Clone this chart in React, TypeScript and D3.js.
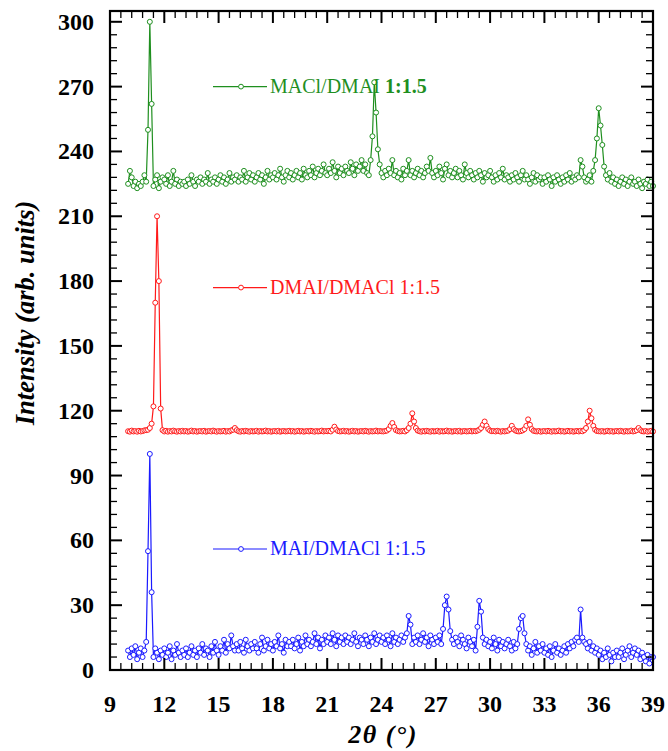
import React from "react";
import * as d3 from "d3";

// 2θ grid: 10.0 .. 39.0 in steps of 0.1
const angleStart = 10;
const angleStep = 0.1;

const greenValues = [
  225, 231, 228, 224, 226, 223, 225, 224, 226, 229,
  226, 250, 300, 262, 224, 227, 229, 223, 226, 228,
  227, 225, 229, 224, 226, 231, 225, 227, 224, 226,
  225, 226, 224, 227, 225, 229, 226, 224, 227, 226,
  228, 225, 227, 226, 230, 225, 227, 226, 228, 225,
  227, 229, 226, 228, 225, 227, 230, 226, 228, 227,
  229, 226, 228, 227, 231, 226, 228, 230, 227, 229,
  226, 228, 230, 227, 229, 225, 228, 231, 227, 229,
  228, 230, 227, 229, 232, 228, 226, 229, 231, 228,
  230, 227, 229, 231, 228, 230, 227, 232, 229, 228,
  231, 229, 233, 228, 230, 232, 229, 231, 234, 230,
  229, 232, 230, 235, 231, 228, 233, 230, 232, 229,
  233, 231, 230, 235, 232, 229, 234, 231, 233, 236,
  231, 234, 230, 229, 236, 247, 272, 258, 241, 234,
  230, 228, 231, 229, 232, 230, 236, 229, 231, 228,
  230, 227, 232, 229, 231, 236, 229, 231, 228, 230,
  232, 229, 231, 228, 230, 233, 231, 237, 230, 228,
  231, 229, 233, 230, 227, 232, 234, 229, 231, 228,
  230, 232, 228, 231, 229, 227, 234, 230, 228, 231,
  229, 227, 230, 228, 231, 229, 226, 230, 228, 229,
  231, 228, 226, 229, 227, 230, 228, 232, 227, 229,
  228, 226, 229, 227, 230, 228, 226, 229, 231, 227,
  229, 227, 225, 228, 230, 226, 229, 227, 228, 225,
  228, 226, 229, 227, 224, 228, 226, 229, 227, 225,
  228, 226, 229, 227, 230, 226, 228, 227, 229, 228,
  236, 233, 228, 226, 227, 229, 226, 231, 236, 246,
  260, 252, 243, 233, 229, 227, 230, 226, 228, 225,
  227, 224, 226, 228, 225, 227, 224, 226, 228, 225,
  226, 224, 227, 225, 223, 226, 225, 227, 224, 226,
  224,
];

const redValues = [
  110.5, 110.3, 110.8, 110.4, 110.6, 110.3, 110.7, 110.4, 110.6, 110.9,
  111, 111.2, 112, 114, 122, 170, 210, 180, 121, 111,
  110.4, 110.7, 110.3, 110.6, 110.4, 110.8, 110.5, 110.3, 110.6, 110.4,
  110.7, 110.4, 110.6, 110.3, 110.5, 110.8, 110.4, 110.6, 110.3, 110.5,
  110.6, 110.4, 110.7, 110.3, 110.5, 110.6, 110.4, 110.8, 110.5, 110.3,
  110.6, 110.4, 110.5, 110.7, 110.3, 110.6, 110.4, 110.9, 111.2, 112,
  111, 110.5, 110.3, 110.6, 110.4, 110.7, 110.5, 110.3, 110.6, 110.4,
  110.5, 110.7, 110.3, 110.6, 110.4, 110.5, 110.8, 110.4, 110.6, 110.3,
  110.5, 110.6, 110.4, 110.7, 110.3, 110.5, 110.6, 110.4, 110.5, 110.7,
  110.4, 110.6, 110.3, 110.5, 110.7, 110.4, 110.6, 110.3, 110.5, 110.6,
  110.4, 110.7, 110.5, 110.3, 110.6, 110.4, 110.5, 110.8, 110.4, 110.6,
  110.5, 110.7, 110.4, 111.2, 112.6, 111.3, 110.6, 110.4, 110.5, 110.7,
  110.4, 110.6, 110.3, 110.5, 110.7, 110.4, 110.6, 110.3, 110.5, 110.6,
  110.4, 110.7, 110.5, 110.3, 110.6, 110.4, 110.5, 110.8, 110.4, 110.6,
  110.5, 110.4, 110.6, 110.8, 111.5, 113, 114.3, 112.5, 111, 110.6,
  110.4, 110.5, 110.7, 110.4, 111, 112, 114, 118.8, 115, 112,
  110.8, 110.5, 110.3, 110.6, 110.4, 110.7, 110.5, 110.3, 110.6, 110.4,
  110.5, 110.7, 110.3, 110.6, 110.4, 110.5, 110.8, 110.4, 110.6, 110.3,
  110.5, 110.6, 110.4, 110.7, 110.3, 110.5, 110.6, 110.4, 110.5, 110.7,
  110.4, 110.6, 110.5, 110.8, 111.2, 112, 113.5, 115, 113, 111.5,
  110.8, 110.5, 110.6, 110.4, 110.7, 110.5, 110.3, 110.6, 110.4, 110.6,
  110.8, 111.5, 113, 111.5, 110.8, 110.5, 110.4, 110.6, 110.9, 111.5,
  113, 116, 113.5, 111.5, 110.7, 110.5, 110.4, 110.6, 110.3, 110.5,
  110.6, 110.4, 110.7, 110.5, 110.3, 110.6, 110.4, 110.5, 110.8, 110.4,
  110.6, 110.3, 110.5, 110.7, 110.4, 110.6, 110.3, 110.5, 110.6, 110.4,
  110.7, 110.5, 111, 112, 115, 120, 116.5, 113, 111.2, 110.6,
  110.5, 110.4, 110.6, 110.3, 110.5, 110.7, 110.4, 110.6, 110.3, 110.5,
  110.6, 110.4, 110.7, 110.5, 110.3, 110.6, 110.4, 110.5, 110.8, 110.4,
  110.6, 111, 112, 111, 110.5, 110.4, 110.6, 110.3, 110.5, 110.7,
  110.4,
];

const blueValues = [
  9, 6, 10, 7, 11, 5, 8, 10, 6, 9,
  13, 55, 100, 36, 6, 10, 8, 5, 9, 7,
  10, 6, 8, 11, 5, 9, 7, 12, 8, 6,
  9, 7, 10, 6, 8, 11, 7, 9, 6, 10,
  8, 12, 7, 10, 9, 6, 11, 8, 13, 9,
  7, 11, 9, 14, 8, 12, 10, 16, 11, 9,
  12, 9, 13, 10, 8, 14, 11, 9, 12, 10,
  13, 10, 8, 12, 15, 9, 11, 14, 10, 12,
  9, 13, 11, 16, 10, 12, 8, 14, 11, 13,
  11, 14, 10, 12, 15, 9, 13, 11, 16, 12,
  14, 11, 13, 17, 12, 15, 10, 14, 12, 16,
  13, 15, 12, 17, 14, 11, 16, 13, 15, 12,
  16, 13, 15, 12, 14, 17, 13, 11, 15, 14,
  12, 16, 14, 11, 15, 13, 17, 12, 14, 16,
  13, 15, 12, 16, 14, 11, 17, 13, 15, 12,
  14, 16, 13, 15, 17, 25, 21, 12, 15, 13,
  16, 12, 14, 17, 13, 15, 11, 16, 14, 12,
  15, 13, 16, 12, 19, 30, 34, 28, 18, 14,
  12, 15, 13, 11, 16, 14, 12, 10, 15, 13,
  11, 14, 9, 20, 32, 27, 15, 12, 14, 11,
  13, 10, 15, 12, 9, 14, 11, 13, 10, 12,
  14, 11, 9, 13, 10, 12, 19, 24, 25, 17,
  12, 9, 11, 7, 10, 13, 8, 11, 9, 12,
  8, 10, 7, 11, 6, 9, 12, 8, 10, 7,
  9, 11, 8, 12, 10, 13, 11, 14, 15, 13,
  28, 15, 13, 12, 10, 13, 9, 11, 8, 10,
  7, 9, 5, 8, 6, 10, 7, 4, 8, 6,
  9, 6, 8, 10, 5, 7, 9, 11, 6, 8,
  10, 7, 9, 5, 8, 6, 4, 7, 3, 6,
  6,
];

const xTicks = [9, 12, 15, 18, 21, 24, 27, 30, 33, 36, 39];
const yTicks = [0, 30, 60, 90, 120, 150, 180, 210, 240, 270, 300];

const series = [
  { name: "MACl/DMAI", ratio: "1:1.5", boldRatio: true, color: "#1f8f1f", values: greenValues, legendY: 270 },
  { name: "DMAI/DMACl", ratio: "1:1.5", boldRatio: false, color: "#ff1a1a", values: redValues, legendY: 177 },
  { name: "MAI/DMACl", ratio: "1:1.5", boldRatio: false, color: "#1a1aff", values: blueValues, legendY: 56 },
];

const width = 668;
const height = 751;
const left = 110;
const right = 653;
const top = 11;
const bottom = 670;

const x = d3.scaleLinear().domain([9, 39]).range([left, right]);
const y = d3.scaleLinear().domain([0, 305]).range([bottom, top]);

const minorX = d3.range(9, 39.01, 0.6).map((v) => +v.toFixed(1));
const minorY = d3.range(0, 301, 6);

const font = "'Liberation Serif', 'Times New Roman', serif";

export default function App() {
  const line = d3
    .line<number>()
    .x((_, i) => x(angleStart + i * angleStep))
    .y((d) => y(d));

  return (
    <svg
      width={width}
      height={height}
      style={{ position: "absolute", left: 0, top: 0, background: "#fff" }}
      fontFamily={font}
    >
      {series.map((s) => (
        <g key={s.name}>
          <path d={line(s.values) || ""} fill="none" stroke={s.color} strokeWidth={1.2} />
          {s.values.map((v, i) => (
            <circle
              key={i}
              cx={x(angleStart + i * angleStep)}
              cy={y(v)}
              r={2.5}
              fill="#fff"
              stroke={s.color}
              strokeWidth={1}
            />
          ))}
          {/* legend */}
          <line x1={213} x2={267} y1={y(s.legendY)} y2={y(s.legendY)} stroke={s.color} strokeWidth={1.2} />
          <circle cx={241} cy={y(s.legendY)} r={2.4} fill="#fff" stroke={s.color} />
          <text x={270} y={y(s.legendY) + 6} fontSize={20} fill={s.color}>
            {s.name}{" "}
            <tspan fontWeight={s.boldRatio ? "bold" : "normal"}>{s.ratio}</tspan>
          </text>
        </g>
      ))}

      {/* frame */}
      <rect x={left} y={top} width={right - left} height={bottom - top} fill="none" stroke="#000" strokeWidth={2.2} />

      {/* x ticks */}
      {minorX.map((v) => {
        const major = Math.abs(v / 3 - Math.round(v / 3)) < 1e-6;
        const len = major ? 12 : 7;
        return (
          <g key={"x" + v} stroke="#000" strokeWidth={major ? 2 : 1.3}>
            <line x1={x(v)} x2={x(v)} y1={bottom} y2={bottom - len} />
            <line x1={x(v)} x2={x(v)} y1={top} y2={top + len} />
          </g>
        );
      })}
      {/* y ticks */}
      {minorY.map((v) => {
        const major = v % 30 === 0;
        const len = major ? 12 : 7;
        return (
          <g key={"y" + v} stroke="#000" strokeWidth={major ? 2 : 1.3}>
            <line x1={left} x2={left + len} y1={y(v)} y2={y(v)} />
            <line x1={right} x2={right - len} y1={y(v)} y2={y(v)} />
          </g>
        );
      })}

      {xTicks.map((v) => (
        <text key={"xl" + v} x={x(v)} y={712} textAnchor="middle" fontSize={24} fontWeight="bold">
          {v}
        </text>
      ))}
      {yTicks.map((v) => (
        <text key={"yl" + v} x={94} y={y(v) + 8} textAnchor="end" fontSize={24} fontWeight="bold">
          {v}
        </text>
      ))}

      <text
        transform="translate(34,313) rotate(-90)"
        textAnchor="middle"
        fontSize={26.5}
        fontWeight="bold"
        fontStyle="italic"
      >
        Intensity (arb. units)
      </text>
      <text
        x={383}
        y={743}
        textAnchor="middle"
        fontSize={26}
        fontWeight="bold"
        fontStyle="italic"
        letterSpacing={1.5}
      >
        2θ (°)
      </text>
    </svg>
  );
}
